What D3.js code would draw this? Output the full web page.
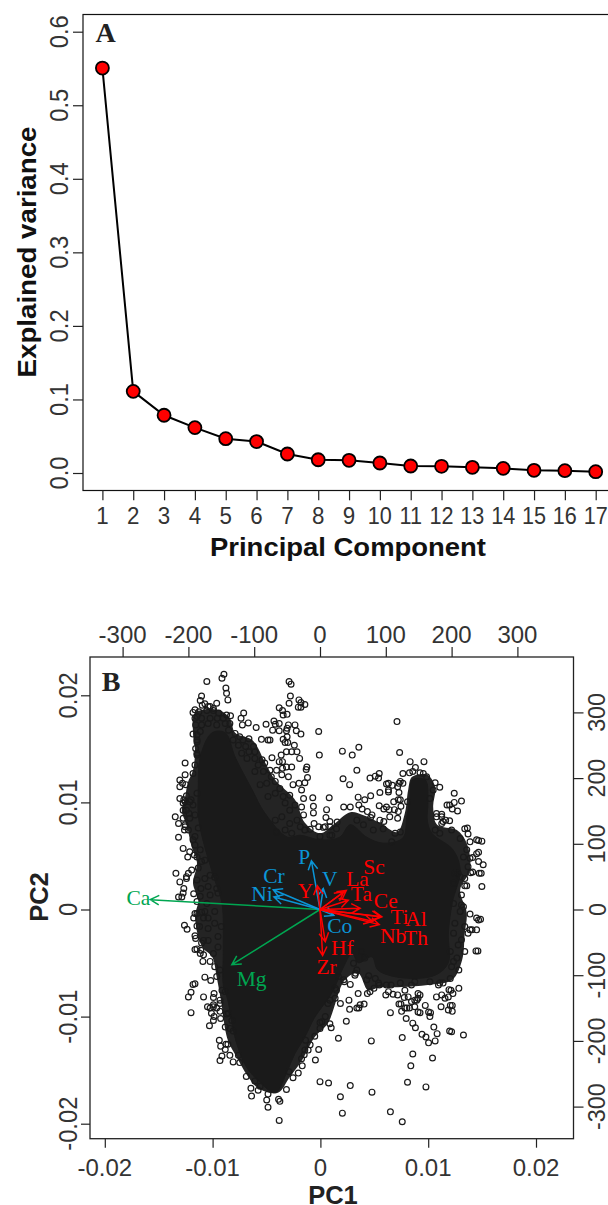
<!DOCTYPE html>
<html><head><meta charset="utf-8"><script src="https://cdn.jsdelivr.net/npm/d3@7"></script>
<style>html,body{margin:0;padding:0;background:#fff}svg{display:block}</style></head><body>
<script>
// Panel A values
const components = [1,2,3,4,5,6,7,8,9,10,11,12,13,14,15,16,17];
const explained = [.5506,.111,.0785,.0617,.0467,.0427,.0258,.018,.0172,.0136,.0095,.0091,.0077,.0063,.0036,.0032,.0018];
const yTicksA = [0,.1,.2,.3,.4,.5,.6];
const pcTicksX = [-.02,-.01,0,.01,.02];
const pcTicksY = [-.02,-.01,0,.01,.02];
const scoreTicks = [-300,-200,-100,0,100,200,300];
// Panel B: the saturated mass of overplotted points (too dense to separate), outlines read in score units
const massOutline = [[-164,269],[-182,232],[-185,182],[-185,144],[-178,106],[-160,45],[-149,10],[-147,-62],[-147,-115],[-140,-138],[-134,-173],[-125,-209],[-111,-241],[-94,-260],[-68,-279],[-49,-244],[-38,-219],[-23,-194],[-8,-164],[18,-127],[35,-89],[49,-66],[58,-81],[79,-72],[88,-92],[125,-104],[175,-100],[195,-81],[195,-36],[201,10],[213,60],[202,91],[170,116],[163,136],[164,162],[160,197],[140,197],[137,171],[132,141],[126,109],[96,101],[71,110],[46,129],[30,110],[0,106],[-30,113],[-49,110],[-84,147],[-103,182],[-129,232],[-144,269]];
const fringeOutline = [[-190,299],[-155,304],[-137,291],[-129,269],[-103,258],[-84,225],[-68,197],[-38,167],[-23,132],[0,116],[20,129],[46,148],[65,144],[91,132],[117,118],[129,147],[134,182],[140,202],[163,205],[175,186],[172,156],[178,129],[208,121],[223,101],[228,60],[213,30],[223,-5],[220,-36],[216,-77],[201,-107],[164,-115],[125,-118],[88,-119],[73,-123],[58,-97],[38,-107],[12,-173],[-8,-194],[-27,-229],[-46,-255],[-64,-279],[-94,-272],[-109,-255],[-126,-226],[-140,-199],[-147,-164],[-149,-148],[-157,-103],[-164,-72],[-179,-57],[-190,-11],[-185,14],[-193,40],[-187,71],[-195,95],[-202,126],[-210,151],[-205,171],[-201,193],[-193,212],[-190,243],[-193,269]];
// Panel B: individually visible points, score units, read region by region
const scoresOuter = [[-172,347],[-149,352],[-146,358],[-143,337],[-142,329],[-140,319],[-180,325],[-182,318],[-179,311],[-190,304],[-193,300],[-187,294],[-157,314],[-162,306],[-170,309],[-154,299],[-142,296],[-136,295],[-116,299],[-120,291],[-118,281],[-109,284],[-97,277],[-82,282],[-70,287],[-62,307],[-57,303],[-56,296],[-50,297],[-72,273],[-62,272],[-62,283],[-48,281],[-38,281],[-51,272],[-36,272],[-47,347],[-44,343],[-45,325],[-47,314],[-32,319],[-33,308],[-76,258],[-89,259],[-79,258],[-56,259],[-50,263],[-53,254],[-39,250],[-43,240],[-35,240],[-73,231],[-59,235],[-62,225],[-66,212],[-51,217],[-43,217],[-205,223],[-205,205],[-213,197],[-209,192],[-213,187],[-204,190],[-213,169],[-207,167],[-220,141],[-215,131],[-206,121],[-215,110],[-208,93],[-201,80],[-191,83],[-219,55],[-200,55],[-195,60],[-203,47],[-213,42],[-208,25],[-215,19],[-192,24],[-193,267],[-187,258],[-187,238],[-190,220],
[-29,315],[-23,312],[-29,308],[-29,267],[-2,271],[-1,235],[34,241],[49,235],[59,247],[117,286],[121,239],[137,225],[145,216],[158,225],[141,210],[136,208],[126,207],[157,207],[56,212],[35,199],[45,190],[76,200],[90,207],[89,200],[104,192],[110,189],[104,179],[91,178],[126,192],[120,192],[120,178],[77,173],[68,167],[58,171],[14,170],[-11,170],[-25,169],[-10,157],[-10,147],[10,152],[9,140],[36,156],[46,156],[59,159],[64,153],[72,149],[90,158],[97,153],[105,152],[112,164],[122,167],[113,152],[123,157],[133,164],[204,177],[215,165],[204,163],[197,159],[209,150],[201,153],[185,145],[177,141],[191,136],[197,135],[185,131],[224,124],[225,115],[241,105],[246,104],[241,87],[232,79],[248,68],[245,55],[232,57],[220,47],[223,36],[246,35],[210,55],[215,22],[215,7],[-20,217],[-19,201],[-23,193],[-28,182],[15,134],[-9,131],[-2,126],[8,126],[-15,122],[-23,121],[0,111],[26,133],[77,140],[97,134],[118,139],
[-206,-24],[-202,-30],[-192,-13],[-183,-26],[-187,-6],[-180,-4],[-170,-29],[-190,-40],[-187,-60],[-177,-47],[-182,-67],[-178,-79],[-167,-79],[-170,-47],[-175,-103],[-166,-108],[-190,-113],[-193,-114],[-196,-126],[-200,-133],[-177,-133],[-161,-128],[-162,-134],[-171,-148],[-162,-145],[-196,-157],[-151,-166],[-162,-169],[-168,-177],[-144,-179],[-153,-199],[-151,-208],[-143,-205],[-144,-213],[-137,-222],[-149,-223],[-152,-230],[-154,-232],[-132,-232],[-122,-233],[-112,-254],[-105,-272],[-104,-284],[-94,-275],[-81,-290],[-79,-281],[-79,-301],[-61,-292],[-51,-274],[-62,-321],[-41,-256],[-33,-249],[-132,-185],[-124,-222],
[244,-15],[238,-31],[228,-31],[240,-63],[220,-64],[211,-92],[211,-120],[202,-128],[199,-123],[195,-133],[190,-135],[182,-112],[177,-133],[184,-148],[195,-153],[201,-155],[201,-146],[218,-191],[197,-185],[200,-186],[178,-189],[175,-200],[173,-179],[167,-163],[168,-157],[160,-146],[152,-157],[152,-130],[144,-138],[144,-148],[136,-150],[129,-150],[123,-144],[124,-155],[107,-157],[131,-166],[141,-173],[145,-180],[155,-190],[161,-194],[165,-203],[125,-195],[78,-200],[28,-196],[40,-170],[17,-180],[-2,-213],[-7,-229],[141,-220],[138,-238],[171,-226],[133,-263],[161,-270],[0,-262],[13,-264],[46,-268],[31,-285],[79,-278],[34,-310],[107,-308],[125,-323],[31,-143],[44,-138],[45,-152],[59,-150],[67,-144],[58,-128],[72,-128],[82,-120],[90,-115],[108,-115],[118,-130],[100,-130],[46,-114],[36,-107],[54,-97],[74,-101],[8,-163],[0,-172],[-15,-206],[-23,-214],[-28,-227],[23,-120],[12,-143]];
const scoresUpperLeft = [[-180,324],[-181,318],[-175,313],[-167,309],[-157,314],[-190,305],[-194,299],[-184,301],[-172,303],[-162,303],[-155,301],[-142,298],[-137,294],[-147,291],[-190,291],[-180,291],[-167,291],[-156,291],[-189,281],[-180,281],[-170,283],[-157,281],[-144,283],[-137,283],[-182,271],[-194,268],[-187,266],[-139,273],[-129,268],[-122,263],[-132,258],[-117,258],[-108,260],[-124,250],[-113,248],[-101,248],[-99,240],[-108,240],[-119,238],[-111,230],[-99,230],[-88,228],[-94,220],[-84,223],[-76,212],[-86,210],[-99,210],[-74,202],[-68,195],[-81,192],[-91,190],[-61,184],[-56,172],[-68,177],[-79,172],[-46,174],[-53,162],[-38,159],[-46,151],[-28,156],[-25,144],[-35,136],[-46,131],[-30,126],[-58,141],[-68,136],[-53,121],[-66,118],[-43,116],[-187,255],[-189,245],[-187,235],[-190,220],[-193,207],[-205,223],[-203,205],[-213,198],[-208,192],[-214,187],[-213,170],[-203,173],[-198,164],[-208,162],[-193,159],[-203,151],[-190,144],[-198,139],[-219,142],[-214,131],[-205,126],[-200,121],[-185,124],[-215,111],[-190,111],[-90,259],[-80,258],[-121,291],[-117,299],[-119,281],[-110,284],[-96,277],[-83,282],[-71,287],[-62,308],[-57,303],[-50,298],[-46,314],[-45,325],[-29,316],[-23,312],[-30,307],[-68,282],[-61,283],[-72,272],[-61,273],[-50,276],[-47,282],[-38,281],[-37,273],[-29,267],[-3,272],[-48,264],[-54,258],[-49,254],[-41,250],[-43,242],[-35,241],[-51,240],[-59,235],[-74,230],[-57,225],[-64,223],[-31,230],[-1,235],[-42,217],[-20,216],[-21,213],[-57,215],[-66,212],[-58,205],[-48,202],[-19,201],[-41,190],[-32,192],[-23,193],[-28,182],[-12,170],[-25,168],[13,170],[-10,157],[10,152],[-10,147],[-24,144],[10,141],[-10,131],[-3,127],[5,125],[15,126],[-15,122],[0,111],[18,113]];
const scoresLeftEdge = [[-213,171],[-203,173],[-205,164],[-196,167],[-187,177],[-220,141],[-215,131],[-208,151],[-208,139],[-199,146],[-190,144],[-205,129],[-198,121],[-185,124],[-216,111],[-208,93],[-193,106],[-190,98],[-198,88],[-203,80],[-187,80],[-182,91],[-180,73],[-185,63],[-175,75],[-219,56],[-196,60],[-203,50],[-201,54],[-213,42],[-207,32],[-187,45],[-175,47],[-167,52],[-160,49],[-181,32],[-170,35],[-157,32],[-208,23],[-193,23],[-210,19],[-215,19],[-182,20],[-167,22],[-155,25],[-187,12],[-172,9],[-185,-5],[-190,-6],[-193,-13],[-175,-3],[-170,-13],[-160,-3],[-177,-13],[-206,-22],[-202,-31],[-187,-25],[-182,-26],[-170,-29],[-160,-21],[-150,-26],[-190,-39],[-189,-44],[-171,-46],[-180,-51],[-190,-61],[-181,-62],[-177,-69],[-180,-79],[-167,-79],[-162,-67],[-155,-41],[-155,-57],[-160,-87],[-174,-104],[-167,-108],[-157,-102],[-152,-92],[-188,-112],[-193,-113],[-196,-125],[-200,-133],[-177,-133],[-161,-128],[-162,-134],[-144,-125],[-172,-149],[-167,-150],[-162,-148],[-152,-143],[-165,-158],[-196,-157],[-152,-155],[-161,-163],[-139,-158]];
const scoresBottomTip = [[-149,-123],[-152,-138],[-157,-150],[-150,-164],[-142,-159],[-145,-179],[-137,-181],[-134,-169],[-154,-199],[-151,-208],[-140,-205],[-143,-212],[-137,-221],[-149,-222],[-154,-230],[-132,-232],[-122,-234],[-125,-221],[-111,-253],[-99,-261],[-106,-273],[-91,-269],[-103,-283],[-80,-282],[-51,-274],[-63,-289],[-42,-255],[-33,-248],[-47,-247],[-27,-238],[-30,-229],[-24,-221],[-7,-229],[-13,-205],[-18,-214],[-3,-213],[-22,-199],[-8,-193],[0,-181],[15,-181],[15,-174],[10,-162],[3,-171],[15,-138],[23,-135],[25,-122],[30,-143],[43,-138],[46,-151],[41,-170],[28,-196],[0,-262],[13,-264],[46,-268],[30,-285]];
const scoresLowerRight = [[28,-102],[37,-110],[46,-112],[53,-100],[56,-92],[51,-82],[63,-64],[68,-74],[71,-107],[84,-105],[89,-112],[81,-120],[76,-125],[71,-130],[57,-128],[25,-123],[43,-138],[30,-143],[44,-151],[56,-150],[61,-145],[66,-144],[99,-130],[104,-125],[111,-129],[119,-130],[101,-115],[122,-112],[129,-123],[134,-133],[128,-134],[139,-115],[144,-110],[149,-128],[149,-135],[139,-140],[147,-138],[142,-147],[120,-144],[123,-153],[132,-150],[159,-146],[149,-156],[165,-156],[105,-156],[129,-164],[165,-164],[167,-110],[180,-115],[187,-112],[198,-105],[209,-92],[200,-87],[175,-134],[177,-135],[185,-130],[190,-135],[200,-129],[196,-122],[209,-120],[184,-149],[198,-146],[193,-153],[199,-156],[236,-31],[225,-36],[218,-64],[237,-63],[208,-74],[215,-46],[210,-54],[203,-36],[205,-21],[220,-26],[241,-16],[198,-64],[203,-79],[231,-31]];
const scoresUpperRight = [[34,199],[45,190],[13,169],[10,152],[9,141],[15,134],[25,134],[34,155],[46,155],[57,171],[67,167],[76,174],[90,178],[58,159],[63,151],[71,149],[79,144],[89,159],[101,156],[91,136],[106,141],[119,149],[110,164],[119,167],[121,178],[118,187],[122,195],[76,200],[84,203],[90,207],[101,191],[108,188],[104,182],[124,207],[137,210],[152,208],[162,202],[175,193],[182,186],[172,182],[167,169],[177,146],[185,141],[193,159],[203,164],[213,165],[207,151],[195,134],[187,134],[175,121],[200,121],[182,116],[220,123],[223,116],[213,108],[228,103],[238,106],[243,104],[223,91],[238,85],[228,78],[218,80],[241,73],[246,67],[225,65],[229,56],[242,55],[213,50],[220,49],[220,36],[203,40],[205,55],[5,126],[0,112],[15,113],[122,118],[114,116],[109,103],[96,123],[81,121],[66,129],[56,136],[25,123],[203,9],[218,4],[213,-3],[228,-7],[238,-13]];
// Panel B: loading arrows, score units
const loadingNames = ["Ca","Mg","P","V","Cr","Ni","Co","Y","Sc","La","Ta","Ce","Ti","Al","Nb","Th","Hf","Zr"];
const loadingX = [-258,-134,-13,5,-71,-70,21,-4,40,36,43,61,94,92,90,80,8,4];
const loadingY = [15,-84,74,32,30,19,-9,36,29,27,14,2,-11,-11,-23,-18,-49,-70];
const labelX = [-276,-104,-24,15,-70,-88,30,-22,82,57,63,100,121,146,111,146,34,10];
const labelY = [18,-106,80,46,51,24,-25,28,65,47,24,13,-12,-15,-40,-44,-58,-88];
const loadingGroup = ["g","g","b","b","b","b","b","r","r","r","r","r","r","r","r","r","r","r"];
const groupColor = {g:"#00a651",b:"#0b95d6",r:"#ff0000"};

const ink="#222", sans="'Liberation Sans',Arial,sans-serif", serif="'Liberation Serif',serif";
const svg=d3.select("body").append("svg").attr("width",608).attr("height",1205);

function txt(x,y,s,size,o={}){
  const t=svg.append("text").attr("x",x).attr("y",y).text(s)
    .attr("font-family",o.family||sans).attr("font-size",size).attr("font-weight",o.bold?"bold":"normal")
    .attr("fill",o.fill||ink).attr("text-anchor","middle").attr("dominant-baseline","central");
  if(o.rot) t.attr("transform",`rotate(-90 ${x} ${y})`);
  const len=o.len||(o.squeeze?t.node().getComputedTextLength()*o.squeeze:0);
  if(len) t.attr("textLength",len).attr("lengthAdjust","spacingAndGlyphs");
  return t;
}
function styleAxis(g){ g.select(".domain").remove(); g.selectAll(".tick line").attr("stroke","#222").attr("stroke-width",1.2); g.selectAll(".tick text").remove(); }

/* Panel A */
const xA=d3.scaleLinear().domain([1,17]).range([102.4,595.7]);
const yA=d3.scaleLinear().domain([0,.6]).range([473,31.7]);
svg.append("rect").attr("x",83).attr("y",14.5).attr("width",600).attr("height",476).attr("fill","none").attr("stroke","#111").attr("stroke-width",1.2);
svg.append("g").attr("transform","translate(83,0)").call(d3.axisLeft(yA).tickValues(yTicksA).tickSize(10).tickSizeOuter(0)).call(styleAxis);
svg.append("g").attr("transform","translate(0,490.3)").call(d3.axisBottom(xA).tickValues(components).tickSize(10).tickSizeOuter(0)).call(styleAxis);
yTicksA.forEach(v=>txt(59,yA(v),v.toFixed(1),25.5,{rot:1,fill:"#333",squeeze:.93}));
components.forEach(v=>txt(xA(v),515.5,v,23.5,{fill:"#333",squeeze:v>9?.92:.95}));
svg.append("path").attr("d",d3.line().x((d,i)=>xA(components[i])).y(d=>yA(d))(explained)).attr("fill","none").attr("stroke","#000").attr("stroke-width",2);
svg.selectAll(".ptA").data(explained).join("circle").attr("cx",(d,i)=>xA(components[i])).attr("cy",d=>yA(d)).attr("r",6.5).attr("fill","#ff0000").attr("stroke","#000").attr("stroke-width",1.8);
txt(27,252,"Explained variance",26,{bold:1,rot:1,fill:"#111",len:251});
txt(348,547,"Principal Component",26,{bold:1,fill:"#111",len:276});
txt(105.5,32,"A",28,{family:serif,bold:1});

/* Panel B */
const l=90,r=573.5,t=657,b=1138.7;
const xPC=d3.scaleLinear().domain([-.02,.02]).range([104.8,536]);
const yPC=d3.scaleLinear().domain([-.02,.02]).range([1123.7,695.3]);
const xS=d3.scaleLinear().domain([-300,300]).range([122.6,517.4]);
const yS=d3.scaleLinear().domain([-300,300]).range([1106.6,712.4]);
const scores=[];
[scoresOuter,scoresUpperLeft,scoresLeftEdge,scoresBottomTip,scoresLowerRight,scoresUpperRight].flat().forEach(p=>{
  if(!scores.some(q=>Math.abs(q[0]-p[0])<3&&Math.abs(q[1]-p[1])<3)) scores.push(p);
});
const closed=d3.line().x(d=>xS(d[0])).y(d=>yS(d[1])).curve(d3.curveCatmullRomClosed.alpha(.5));
svg.append("path").attr("d",closed(fringeOutline)).attr("fill","#242424");
svg.append("path").attr("d",closed(massOutline)).attr("fill","#1a1a1a").attr("stroke","#1a1a1a");
svg.selectAll(".pt").data(scores).join("circle").attr("cx",d=>xS(d[0])).attr("cy",d=>yS(d[1])).attr("r",2.9).attr("fill","none").attr("stroke","#1a1a1a").attr("stroke-width",1.2);
svg.append("rect").attr("x",l).attr("y",t).attr("width",r-l).attr("height",b-t).attr("fill","none").attr("stroke","#222").attr("stroke-width",1.3);
svg.append("g").attr("transform",`translate(${l},0)`).call(d3.axisLeft(yPC).tickValues(pcTicksY).tickSize(9).tickSizeOuter(0)).call(styleAxis);
svg.append("g").attr("transform",`translate(0,${b})`).call(d3.axisBottom(xPC).tickValues(pcTicksX).tickSize(9).tickSizeOuter(0)).call(styleAxis);
svg.append("g").attr("transform",`translate(0,${t})`).call(d3.axisTop(xS).tickValues(scoreTicks).tickSize(10).tickSizeOuter(0)).call(styleAxis);
svg.append("g").attr("transform",`translate(${r},0)`).call(d3.axisRight(yS).tickValues(scoreTicks).tickSize(10).tickSizeOuter(0)).call(styleAxis);
const pcFmt=v=>v===0?"0":String(v);
pcTicksX.forEach(v=>txt(xPC(v),1167,pcFmt(v),24,{fill:"#333"}));
pcTicksY.forEach(v=>txt(68,yPC(v),pcFmt(v),25.5,{rot:1,fill:"#333",squeeze:.93}));
scoreTicks.forEach(v=>txt(xS(v),634,v,24,{fill:"#333"}));
scoreTicks.forEach(v=>txt(597,yS(v),v,24.5,{rot:1,fill:"#333",squeeze:.95}));
txt(333,1195,"PC1",25.5,{bold:1});
txt(39,897,"PC2",25.5,{bold:1,rot:1});
txt(111,681,"B",28,{family:serif,bold:1});

loadingNames.forEach((n,i)=>{
  const c=groupColor[loadingGroup[i]], x0=xS(0),y0=yS(0),x1=xS(loadingX[i]),y1=yS(loadingY[i]);
  const a=Math.atan2(y1-y0,x1-x0), h=10, w=.5;
  const p=d3.path(); p.moveTo(x0,y0); p.lineTo(x1,y1);
  p.moveTo(x1-h*Math.cos(a-w),y1-h*Math.sin(a-w)); p.lineTo(x1,y1); p.lineTo(x1-h*Math.cos(a+w),y1-h*Math.sin(a+w));
  svg.append("path").attr("d",p.toString()).attr("fill","none").attr("stroke",c).attr("stroke-width",1.5);
});
loadingNames.forEach((n,i)=>txt(xS(labelX[i]),yS(labelY[i]),n,21.5,{family:serif,fill:groupColor[loadingGroup[i]]}));
</script></body></html>
